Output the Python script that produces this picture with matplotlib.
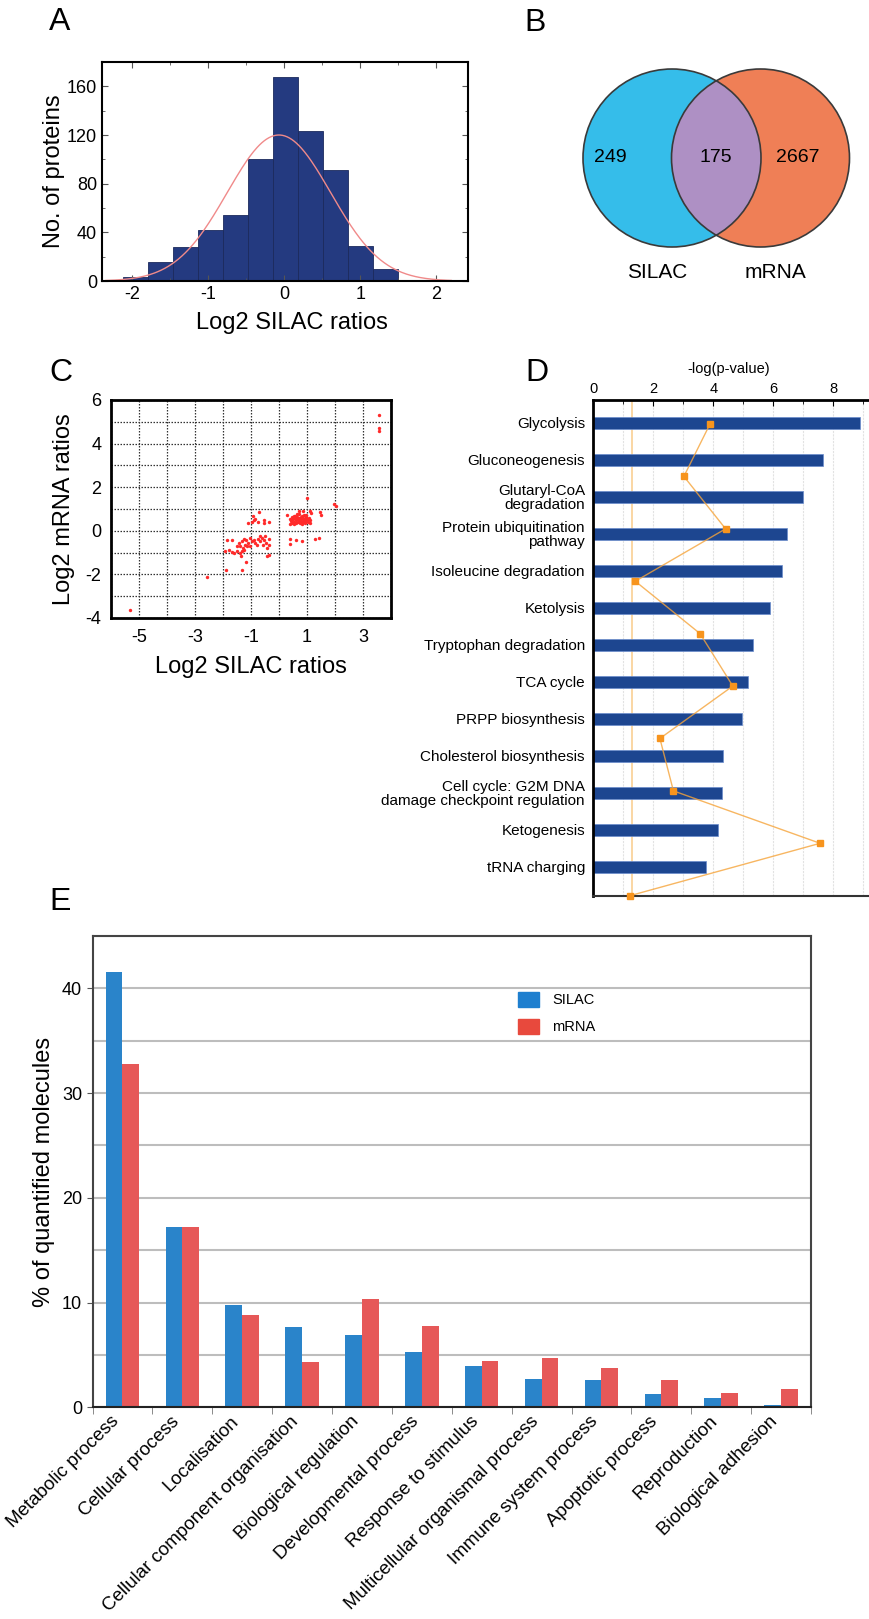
import numpy as np
import matplotlib
matplotlib.use('Agg')
import matplotlib.pyplot as plt
from matplotlib.patches import Circle, Patch
from matplotlib.ticker import MultipleLocator

plt.rcParams['font.family'] = ['Liberation Sans', 'DejaVu Sans']
plt.rcParams['axes.unicode_minus'] = False

# ---- A: histogram of log2 SILAC ratios
hist_edges = [-2.13, -1.80, -1.47, -1.14, -0.81, -0.48, -0.15, 0.18, 0.51, 0.84, 1.17, 1.50, 1.83, 2.16]
hist_counts = [3, 16, 28, 42, 54, 100, 168, 123, 91, 29, 10, 0, 1]
fit_mean, fit_sd, fit_peak = -0.07, 0.68, 120

# ---- B: venn
venn_counts = [249, 175, 2667]
venn_sets = ['SILAC', 'mRNA']

# ---- C: SILAC vs mRNA (log2)
scatter_points = [
    (3.57, 5.30), (3.57, 4.73), (3.57, 4.60), (-5.32, -3.65), (-2.58, -2.12),
    (-1.90, -1.79), (-1.33, -1.82), (-1.18, -1.44), (1.01, 1.50), (1.96, 1.22), (2.05, 1.16),
    (-0.73, 0.86), (-0.93, 0.66), (-0.91, 0.48), (-0.97, 0.39), (-1.12, 0.36), (-0.76, 0.40),
    (-0.55, 0.51), (-0.55, 0.36), (-0.35, 0.39), (-0.85, 0.55),
    (0.71, 0.93), (0.85, 0.89), (1.11, 0.93), (1.14, 0.81), (1.47, 0.86), (1.49, 0.72), (0.30, 0.72),
    (0.38, -0.37), (0.40, -0.59), (0.61, -0.44), (0.81, -0.48), (1.29, -0.37), (1.44, -0.33),
    (0.38, 0.55), (0.42, 0.45), (0.45, 0.62), (0.48, 0.38), (0.50, 0.52), (0.53, 0.70), (0.55, 0.42),
    (0.58, 0.58), (0.60, 0.48), (0.62, 0.35), (0.65, 0.65), (0.67, 0.52), (0.70, 0.44), (0.72, 0.60),
    (0.75, 0.38), (0.77, 0.55), (0.80, 0.47), (0.82, 0.68), (0.85, 0.40), (0.87, 0.57), (0.90, 0.50),
    (0.92, 0.36), (0.95, 0.62), (0.97, 0.45), (1.00, 0.55), (1.03, 0.40), (1.06, 0.60), (1.09, 0.48),
    (1.12, 0.35), (0.40, 0.33), (0.52, 0.30), (0.63, 0.75), (0.73, 0.78), (0.88, 0.74), (0.98, 0.72),
    (0.46, 0.50), (0.68, 0.40), (0.78, 0.64), (0.93, 0.53), (1.05, 0.52), (0.57, 0.66), (0.83, 0.33),
    (-1.86, -0.40), (-1.68, -0.40), (-1.92, -0.94), (-1.80, -0.89), (-1.68, -0.98), (-1.60, -1.04),
    (-1.50, -0.94), (-1.41, -1.04), (-1.32, -0.94), (-1.24, -0.89), (-1.36, -1.17), (-1.14, -0.71),
    (-1.09, -0.56), (-1.03, -0.71), (-0.97, -0.48), (-1.32, -0.48), (-1.26, -0.37), (-1.17, -0.40),
    (-1.05, -0.33), (-0.91, -0.40), (-0.85, -0.56), (-0.76, -0.37), (-0.67, -0.48), (-0.61, -0.33),
    (-0.53, -0.44), (-0.46, -0.56), (-0.37, -0.37), (-0.34, -0.63), (-0.43, -0.79), (-0.37, -1.09),
    (-0.43, -1.14), (-1.44, -0.56), (-1.38, -0.71), (-1.20, -0.63), (-1.29, -0.79), (-1.50, -0.71),
    (-0.79, -0.63), (-0.58, -0.63), (-0.69, -0.25), (-0.51, -0.25),
]

# ---- D: pathways
pathways = ['Glycolysis', 'Gluconeogenesis', 'Glutaryl-CoA\ndegradation',
            'Protein ubiquitination\npathway', 'Isoleucine degradation', 'Ketolysis',
            'Tryptophan degradation', 'TCA cycle', 'PRPP biosynthesis',
            'Cholesterol biosynthesis', 'Cell cycle: G2M DNA\ndamage checkpoint regulation',
            'Ketogenesis', 'tRNA charging']
pathway_logp = [8.89, 7.67, 7.00, 6.47, 6.28, 5.89, 5.31, 5.17, 4.96, 4.33, 4.30, 4.15, 3.75]
ratio_line = [3.89, 3.02, 4.41, 1.40, 3.56, 4.65, 2.22, 2.67, 7.56, 1.22]
threshold = 1.3

# ---- E: GO categories
go_terms = ['Metabolic process', 'Cellular process', 'Localisation',
            'Cellular component organisation', 'Biological regulation',
            'Developmental process', 'Response to stimulus',
            'Multicellular organismal process', 'Immune system process',
            'Apoptotic process', 'Reproduction', 'Biological adhesion']
go_silac = [41.6, 17.2, 9.78, 7.66, 6.9, 5.26, 3.97, 2.66, 2.56, 1.28, 0.86, 0.25]
go_mrna = [32.8, 17.2, 8.82, 4.3, 10.33, 7.73, 4.39, 4.71, 3.75, 2.56, 1.38, 1.73]

W, H = 869, 1619
fig = plt.figure(figsize=(W / 100, H / 100), dpi=100, facecolor='white')


def px_axes(l, t, r, b):
    return fig.add_axes([l / W, 1 - b / H, (r - l) / W, (b - t) / H])


def letter(x, y, s):
    fig.text(x / W, 1 - y / H, s, fontsize=23, ha='center', va='center')


# ================= A
axA = px_axes(102, 62, 468, 281)
axA.hist(hist_edges[:-1], bins=hist_edges, weights=hist_counts,
         color='#243a80', edgecolor='#1b2a5c', linewidth=0.6)
xs = np.linspace(-2.35, 2.2, 300)
axA.plot(xs, fit_peak * np.exp(-0.5 * ((xs - fit_mean) / fit_sd) ** 2), color='#f08a8a', lw=1)
axA.set_xlim(-2.4, 2.42)
axA.set_ylim(0, 180)
axA.xaxis.set_major_locator(MultipleLocator(1))
axA.xaxis.set_minor_locator(MultipleLocator(0.5))
axA.yaxis.set_major_locator(MultipleLocator(40))
axA.yaxis.set_minor_locator(MultipleLocator(20))
axA.tick_params(which='both', direction='in', top=True, right=True, labelsize=13, color='#555')
axA.tick_params(which='major', length=4)
axA.tick_params(which='minor', length=2.5)
for s in axA.spines.values():
    s.set_linewidth(1.5)
axA.set_ylabel('No. of proteins', fontsize=17)
axA.set_xlabel('Log2 SILAC ratios', fontsize=17)
axA.yaxis.set_label_coords(-0.101, 0.5)
axA.xaxis.set_label_coords(0.52, -0.142)
letter(60, 22, 'A')

# ================= B
axB = px_axes(540, 40, 869, 300)
axB.set_xlim(540, 869)
axB.set_ylim(300, 40)
axB.axis('off')
left = Circle((672, 158), 89, facecolor='#35bdea', edgecolor='none')
right = Circle((760.5, 158), 89, facecolor='#ef7f56', edgecolor='none')
axB.add_patch(left)
axB.add_patch(right)
lens = Circle((672, 158), 89, facecolor='#ae90c4', edgecolor='none')
axB.add_patch(lens)
lens.set_clip_path(right)
for c in [(672, 158), (760.5, 158)]:
    axB.add_patch(Circle(c, 89, facecolor='none', edgecolor='#3a3a3a', lw=1.2))
for x, n in zip([610, 716, 798], venn_counts):
    axB.text(x, 158, str(n), fontsize=14, ha='center', va='center')
for x, s in zip([657, 775], venn_sets):
    axB.text(x, 273, s, fontsize=15, ha='center', va='center')
letter(535, 23, 'B')

# ================= C
axC = px_axes(111, 400, 391, 618)
cx = [p[0] for p in scatter_points]
cy = [p[1] for p in scatter_points]
axC.scatter(cx, cy, s=6, color='#ff2a2a', linewidths=0, zorder=3)
axC.set_xlim(-6, 4)
axC.set_ylim(-4, 6)
axC.set_xticks([-5, -3, -1, 1, 3])
axC.set_yticks([-4, -2, 0, 2, 4, 6])
axC.xaxis.set_minor_locator(MultipleLocator(1))
axC.yaxis.set_minor_locator(MultipleLocator(1))
axC.grid(which='both', color='#333', linestyle=(0, (1.2, 1.2)), lw=0.9)
axC.tick_params(which='both', length=0, labelsize=13)
axC.tick_params(axis='y', pad=7)
axC.tick_params(axis='x', pad=8)
for s in axC.spines.values():
    s.set_linewidth(2)
axC.set_ylabel('Log2 mRNA ratios', fontsize=17)
axC.set_xlabel('Log2 SILAC ratios', fontsize=17)
axC.yaxis.set_label_coords(-0.129, 0.5)
axC.xaxis.set_label_coords(0.5, -0.174)
letter(61, 373, 'C')

# ================= D
axD = px_axes(593.3, 400, 869, 895.7)
ypos = np.arange(len(pathways))
axD.barh(ypos, pathway_logp, height=0.33, color='#1d4690', edgecolor='#6a8ccc', lw=0.5, zorder=2)
axD.axvline(threshold, color='#f9cf94', lw=1.2, zorder=1)
axD.set_xlim(0, 9.19)
axD.set_ylim(12.78, -0.62)
axD.set_yticks(ypos)
axD.set_yticklabels(pathways, fontsize=11, linespacing=1.0)
axD.xaxis.tick_top()
axD.xaxis.set_major_locator(MultipleLocator(2))
axD.xaxis.set_minor_locator(MultipleLocator(1))
axD.grid(axis='x', which='both', color='#e2e2e2', linestyle=(0, (2, 1)), lw=0.8, zorder=0)
axD.set_axisbelow(True)
axD.tick_params(axis='x', which='both', direction='in', labelsize=10.5, pad=3)
axD.tick_params(axis='x', which='major', length=4)
axD.tick_params(axis='x', which='minor', length=3)
axD.tick_params(axis='y', length=0, pad=6)
axD.spines['right'].set_visible(False)
axD.spines['top'].set_linewidth(2)
axD.spines['left'].set_linewidth(2)
axD.spines['bottom'].set_linewidth(1.5)
axD.spines['bottom'].set_color('#333')
axD.set_xlabel('-log(p-value)', fontsize=10.5)
axD.xaxis.set_label_position('top')
axD.xaxis.set_label_coords(0.492, 1.054)
axR = axD.twinx()
axR.set_ylim(9.0, -0.458)
axR.plot(ratio_line, np.arange(len(ratio_line)), color='#f6a43a', lw=1, alpha=0.8,
         clip_on=False, zorder=3)
axR.plot(ratio_line, np.arange(len(ratio_line)), ls='none', marker='s', ms=4.5,
         color='#f7941d', clip_on=False, zorder=4)
axR.axis('off')
letter(537, 373, 'D')

# ================= E
axE = px_axes(92.5, 936, 811, 1407.3)
x = np.arange(len(go_terms))
w = 0.279
axE.bar(x - w / 2, go_silac, w, color='#2a84ca', label='SILAC', zorder=2)
axE.bar(x + w / 2, go_mrna, w, color='#e65858', label='mRNA', zorder=2)
axE.set_xlim(-0.5, len(go_terms) - 0.5)
axE.set_ylim(0, 45)
axE.set_yticks([0, 10, 20, 30, 40])
axE.yaxis.set_minor_locator(MultipleLocator(5))
axE.grid(axis='y', which='both', color='#bdbdbd', lw=1.5, zorder=0)
axE.set_axisbelow(True)
axE.set_xticks(x)
axE.set_xticklabels(go_terms, rotation=45, ha='right', va='top', rotation_mode='default', fontsize=13.5)
axE.set_xticks(np.arange(-0.5, len(go_terms), 1), minor=True)
axE.tick_params(axis='x', which='major', length=0, pad=4)
axE.tick_params(axis='x', which='minor', length=5, color='#777')
axE.tick_params(axis='y', which='major', length=4, labelsize=13, color='#555')
axE.tick_params(axis='y', which='minor', length=0)
for s in axE.spines.values():
    s.set_linewidth(1.5)
    s.set_color('#444')
axE.spines['bottom'].set_color('#222')
axE.set_ylabel('% of quantified molecules', fontsize=17)
axE.yaxis.set_label_coords(-0.052, 0.5)
axE.legend(handles=[Patch(color='#1e7fcf', label='SILAC'), Patch(color='#e8493d', label='mRNA')],
           loc='upper left', bbox_to_anchor=((517.7 - 92.5) / 718.5, (1407.3 - 992) / 471.3),
           frameon=False, fontsize=10.5, borderaxespad=0, borderpad=0,
           handlelength=1.45, handleheight=1.2, labelspacing=0.8, handletextpad=0.9)
letter(60, 902, 'E')

fig.savefig('out.png', dpi=100, facecolor='white')
